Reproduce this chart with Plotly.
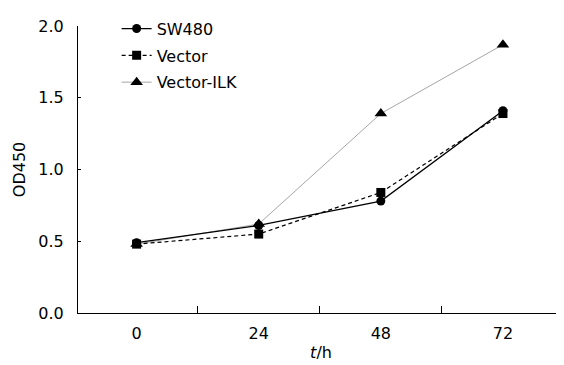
import plotly.graph_objects as go

time_labels = ["0", "24", "48", "72"]
sw480 = [0.49, 0.61, 0.78, 1.41]
vector = [0.48, 0.55, 0.84, 1.39]
vector_ilk = [0.48, 0.62, 1.39, 1.87]
y_ticks = [0.0, 0.5, 1.0, 1.5, 2.0]

FONT = "DejaVu Sans"
FS = 16

fig = go.Figure()
fig.add_trace(go.Scatter(
    x=time_labels, y=vector_ilk, name="Vector-ILK", mode="lines+markers",
    line=dict(color="#a6a6a6", width=1),
    marker=dict(symbol="triangle-up", size=11, color="black"),
    legendrank=3, legendgroup="c",
))
fig.add_trace(go.Scatter(
    x=time_labels, y=vector, name="Vector", mode="lines+markers",
    line=dict(color="black", width=1.2, dash="4px,3px"),
    marker=dict(symbol="square", size=9, color="black"),
    legendrank=2, legendgroup="b",
))
fig.add_trace(go.Scatter(
    x=time_labels, y=sw480, name="SW480", mode="lines+markers",
    line=dict(color="black", width=1.3),
    marker=dict(symbol="circle", size=9, color="black"),
    legendrank=1, legendgroup="a",
))

# page body adds ~8px offset; margins compensate
fig.update_layout(
    width=564, height=365,
    margin=dict(l=70, r=8, t=18, b=60, autoexpand=False),
    paper_bgcolor="white", plot_bgcolor="white",
    font=dict(family=FONT, size=FS, color="black"),
    showlegend=True,
    legend=dict(x=(108 - 70) / 478, y=1.05,
                xanchor="left", yanchor="top",
                bgcolor="rgba(0,0,0,0)", font=dict(size=FS, family=FONT),
                itemwidth=30, tracegroupgap=3, traceorder="grouped"),
    xaxis=dict(
        type="category", range=[-0.48, 3.5],
        showline=True, linecolor="black", linewidth=1,
        ticks="inside", ticklen=7, tickcolor="black", tickson="boundaries",
        ticklabelstandoff=6,
        showgrid=False, zeroline=False,
        title=dict(text="<i>t</i>/h", standoff=4, font=dict(size=FS, family=FONT)),
    ),
    yaxis=dict(
        range=[0, 2.0], tickvals=y_ticks, ticktext=[f"{v:.1f}" for v in y_ticks],
        showline=True, linecolor="black", linewidth=1,
        ticks="inside", ticklen=3, tickcolor="black",
        ticklabelstandoff=10,
        showgrid=False, zeroline=False,
        title=dict(text="OD450", standoff=8, font=dict(size=FS, family=FONT)),
    ),
)

fig.write_html("out.html")
